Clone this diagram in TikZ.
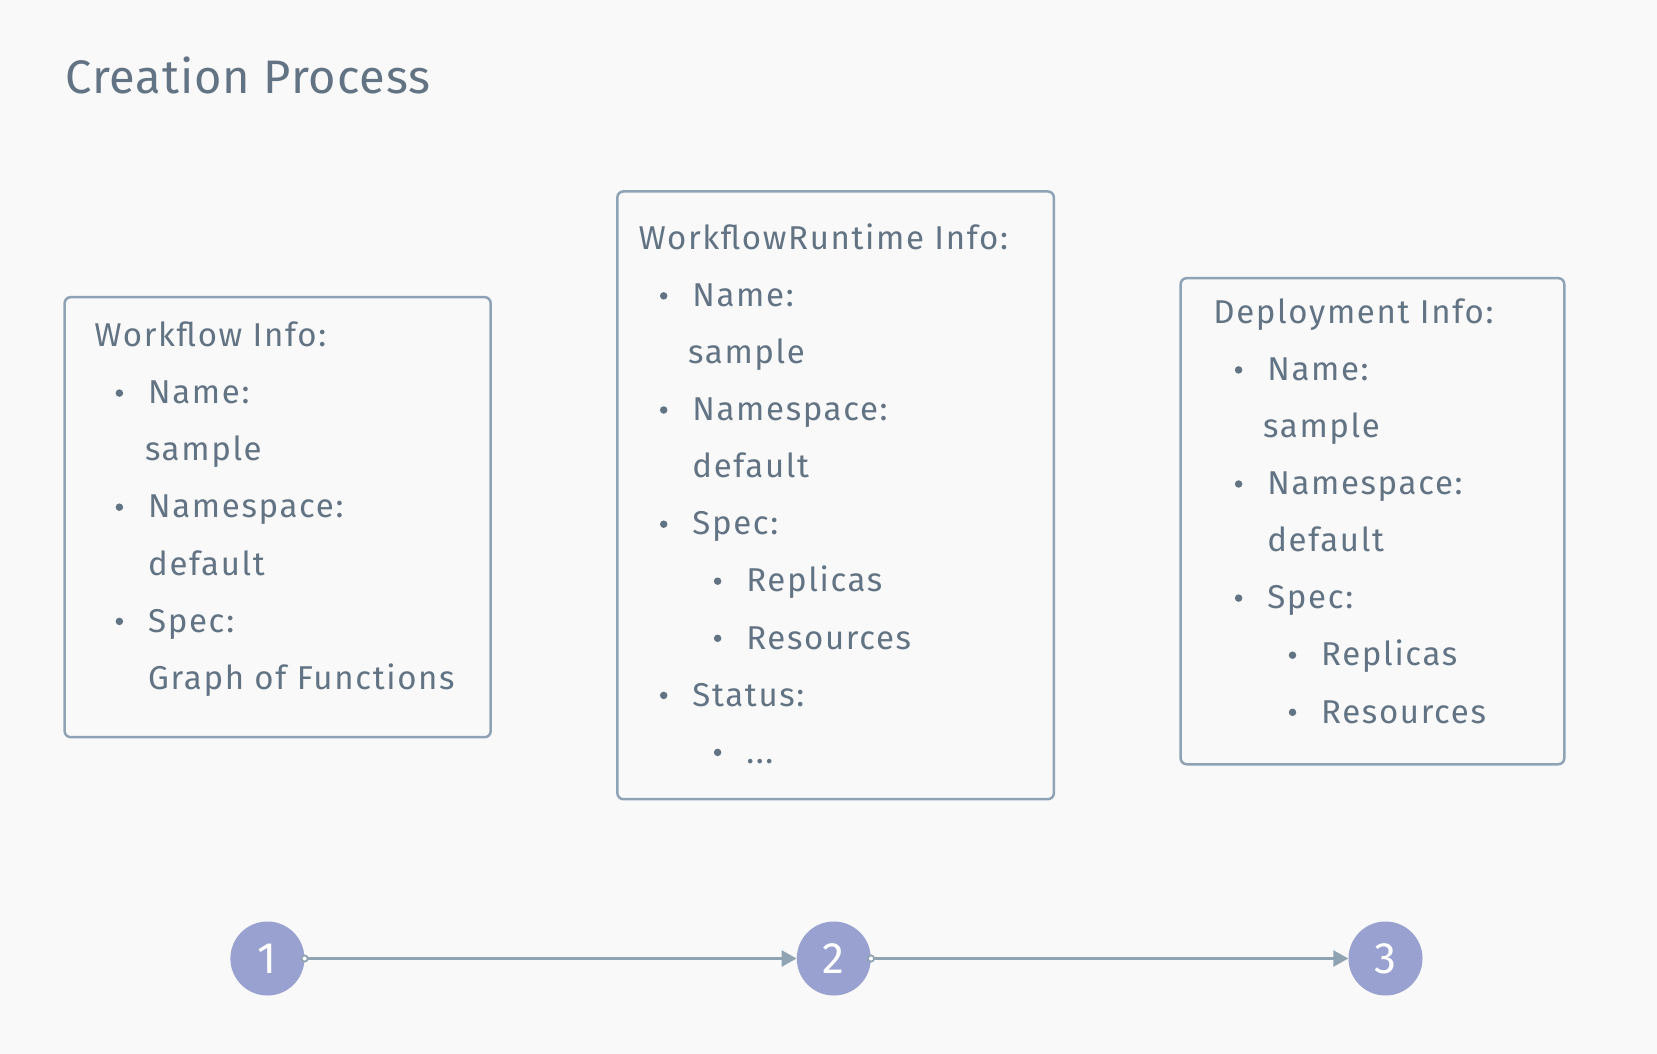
\documentclass[tikz,border=0pt]{standalone}
\usepackage{fontspec}
\setmainfont{Fira Sans}
\newfontfamily\itemfont[LetterSpace=5]{Fira Sans}
\newfontfamily\headfont[LetterSpace=2]{Fira Sans}
\usetikzlibrary{arrows.meta}
\definecolor{bgc}{HTML}{F9F9F9}
\definecolor{txtc}{HTML}{627384}
\definecolor{boxc}{HTML}{8FA3B6}
\definecolor{circc}{HTML}{98A1CF}
\definecolor{linec}{HTML}{8FA3B3}
\tikzset{
  infobox/.style={draw=boxc, line width=2.5pt, rounded corners=6pt, inner sep=0pt, anchor=north west},
  itemtext/.style={anchor=base west, inner sep=0pt, text=txtc, font=\itemfont\fontsize{33}{40}\selectfont},
  titletext/.style={anchor=base west, inner sep=0pt, text=txtc, font=\headfont\fontsize{47}{56}\selectfont},
  dotmark/.style={circle, fill=txtc, inner sep=0pt, minimum size=7.5pt},
  stepcircle/.style={circle, fill=circc, minimum size=74pt, inner sep=0pt, text=white, font=\fontsize{44}{50}\selectfont},
  conn/.style={draw=linec, line width=2.5pt, {Circle[fill=white,length=8pt,width=8pt,line width=1.8pt]}-{Triangle[length=15pt,width=16pt]}, shorten <=-4pt}
}
\begin{document}
\begin{tikzpicture}[x=1pt,y=-1pt]
\fill[bgc] (0,0) rectangle (1657,1054);
\useasboundingbox (0,0) rectangle (1657,1054);
\node[titletext] (title) at (65.5,94) {Creation Process};

% boxes
\node[infobox, minimum width=426pt, minimum height=440pt] (box1) at (63.4,295.9) {};
\node[infobox, minimum width=436.5pt, minimum height=607.7pt] (box2) at (616.1,190.2) {};
\node[infobox, minimum width=383.6pt, minimum height=486.1pt] (box3) at (1179.4,276.9) {};

% box 1 text
\node[itemtext] (b1h) at (94.1,346.7) {Workflow Info:};
\node[dotmark] (b1d1) at (119.4,393.1) {};
\node[itemtext] (b1t1) at (148,403.8) {Name:};
\node[itemtext] (b1t2) at (144.8,460.9) {sample};
\node[dotmark] (b1d3) at (119.4,507.2) {};
\node[itemtext] (b1t3) at (148,517.9) {Namespace:};
\node[itemtext] (b1t4) at (148,575.0) {default};
\node[dotmark] (b1d5) at (119.4,621.4) {};
\node[itemtext] (b1t5) at (148,632.1) {Spec:};
\node[itemtext] (b1t6) at (148,689.1) {Graph of Functions};

% box 2 text
\node[itemtext] (b2h) at (638.3,249.5) {WorkflowRuntime Info:};
\node[dotmark] (b2d1) at (663.7,295.9) {};
\node[itemtext] (b2t1) at (692.2,306.6) {Name:};
\node[itemtext] (b2t2) at (688,363.6) {sample};
\node[dotmark] (b2d3) at (663.7,410.0) {};
\node[itemtext] (b2t3) at (692.2,420.7) {Namespace:};
\node[itemtext] (b2t4) at (692.2,477.8) {default};
\node[dotmark] (b2d5) at (663.7,524.2) {};
\node[itemtext] (b2t5) at (692.2,534.9) {Spec:};
\node[dotmark] (b2d6) at (717.6,581.2) {};
\node[itemtext] (b2t6) at (746.1,591.9) {Replicas};
\node[dotmark] (b2d7) at (717.6,638.3) {};
\node[itemtext] (b2t7) at (746.1,649.0) {Resources};
\node[dotmark] (b2d8) at (663.7,695.4) {};
\node[itemtext] (b2t8) at (692.2,706.1) {Status:};
\node[dotmark] (b2d9) at (717.6,752.4) {};
\node[itemtext] (b2t9) at (746.1,763.1) {...};

% box 3 text
\node[itemtext] (b3h) at (1213.2,323.5) {Deployment Info:};
\node[dotmark] (b3d1) at (1238.6,369.9) {};
\node[itemtext] (b3t1) at (1267.1,380.6) {Name:};
\node[itemtext] (b3t2) at (1263.0,437.6) {sample};
\node[dotmark] (b3d3) at (1238.6,484.0) {};
\node[itemtext] (b3t3) at (1267.1,494.7) {Namespace:};
\node[itemtext] (b3t4) at (1267.1,551.8) {default};
\node[dotmark] (b3d5) at (1238.6,598.1) {};
\node[itemtext] (b3t5) at (1267.1,608.8) {Spec:};
\node[dotmark] (b3d6) at (1292.5,655.2) {};
\node[itemtext] (b3t6) at (1321,665.9) {Replicas};
\node[dotmark] (b3d7) at (1292.5,712.3) {};
\node[itemtext] (b3t7) at (1321,723.0) {Resources};

% steps
\node[stepcircle] (s1) at (267.4,958.5) {1};
\node[stepcircle] (s2) at (833.8,958.5) {2};
\node[stepcircle] (s3) at (1385.5,958.5) {3};
\draw[conn] (s1) -- (s2);
\draw[conn] (s2) -- (s3);
\end{tikzpicture}
\end{document}
